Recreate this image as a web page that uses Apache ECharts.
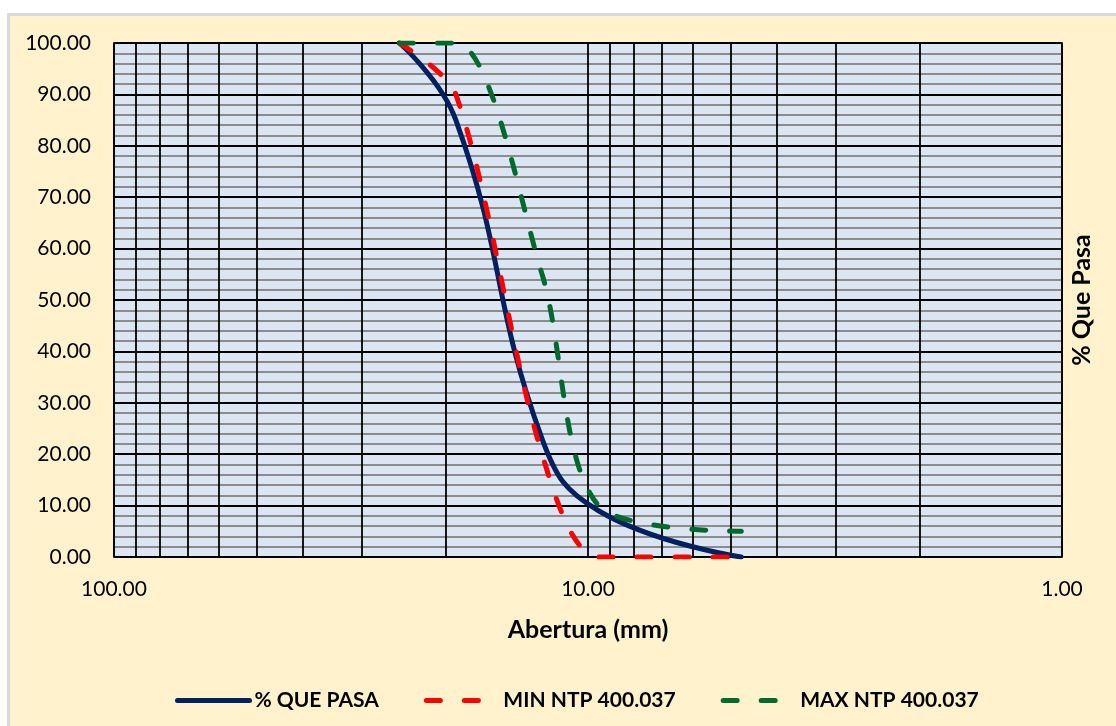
<!DOCTYPE html>
<html>
<head>
<meta charset="utf-8">
<script src="https://cdn.jsdelivr.net/npm/echarts@6/dist/echarts.min.js"></script>
<style>
  html, body { margin: 0; padding: 0; background: #fff; }
  #frame { position: absolute; left: 7px; top: 13px; right: 0; bottom: 0;
           background: #FFF2CC; border-left: 3px solid #d9d9d9; border-top: 3px solid #d9d9d9; }
  #chart { position: absolute; left: 0; top: 0; width: 1116px; height: 726px; }
</style>
</head>
<body>
<div id="frame"></div>
<div id="chart"></div>
<script>
// tamices (mm) y % que pasa
var aberturas = [25, 19, 12.5, 9.5, 4.75];
var quePasa = [100, 85, 23, 9, 0];
var minNtp = [100, 90, 20, 0, 0];
var maxNtp = [100, 100, 55, 10, 5];
// lineas verticales del papel logaritmico
var lineasLog = [90, 80, 70, 60, 50, 40, 30, 20, 9, 8, 7, 6, 5, 4, 3, 2];

function pares(vals) {
    return aberturas.map(function(a, i) { return [a, vals[i]]; });
}

var myChart = echarts.init(document.getElementById('chart'));
var font = 'Lato';

option = {
    backgroundColor: 'transparent',
    animation: false,
    grid: {
        left: 114, top: 43, right: 54, bottom: 169,
        show: true,
        backgroundColor: '#DCE6F2',
        borderColor: '#000',
        borderWidth: 1.5
    },
    legend: {
        top: 685,
        left: 170,
        itemWidth: 72,
        itemHeight: 14,
        itemGap: 45,
        itemStyle: { opacity: 0 },
        lineStyle: { width: 5 },
        textStyle: { fontFamily: font, fontWeight: 'bold', fontSize: 21, color: '#000' },
        data: ['% QUE PASA', 'MIN NTP 400.037', 'MAX NTP 400.037']
    },
    graphic: [{
        type: 'text',
        x: 1082, y: 300,
        rotation: Math.PI / 2,
        style: {
            text: '% Que Pasa',
            fontFamily: font, fontWeight: 'bold', fontSize: 25, fill: '#000',
            textAlign: 'center', textVerticalAlign: 'middle'
        }
    }],
    xAxis: {
        type: 'log',
        logBase: 10,
        min: 1,
        max: 100,
        inverse: true,
        name: 'Abertura (mm)',
        nameLocation: 'middle',
        nameGap: 60,
        nameTextStyle: { fontFamily: font, fontWeight: 'bold', fontSize: 25, color: '#000' },
        axisLine: { show: false },
        axisTick: { show: false },
        axisLabel: {
            fontFamily: font, fontSize: 21, color: '#000', margin: 22,
            formatter: function(v) { return Number(v).toFixed(2); }
        },
        splitLine: { show: true, lineStyle: { color: '#000', width: 1.8 } }
    },
    yAxis: {
        type: 'value',
        min: 0,
        max: 100,
        interval: 10,
        axisLine: { show: false },
        axisTick: { show: false },
        axisLabel: {
            fontFamily: font, fontSize: 21, color: '#000', margin: 23,
            formatter: function(v) { return v.toFixed(2); }
        },
        minorTick: { show: false, splitNumber: 5 },
        minorSplitLine: { show: true, lineStyle: { color: '#8c8c8c', width: 2 } },
        splitLine: { show: true, lineStyle: { color: '#000', width: 1.8 } }
    },
    series: [{
        name: '% QUE PASA',
        type: 'line',
        smooth: 0.45,
        symbol: 'none',
        data: pares(quePasa),
        lineStyle: { color: '#002060', width: 5, cap: 'round' },
        itemStyle: { color: '#002060' },
        markLine: {
            silent: true,
            symbol: 'none',
            label: { show: false },
            z: 1,
            lineStyle: { color: '#000', width: 1.8, type: 'solid' },
            data: lineasLog.map(function(v) { return { xAxis: v }; })
        },
        z: 3
    }, {
        name: 'MIN NTP 400.037',
        type: 'line',
        smooth: 0.3,
        symbol: 'none',
        data: pares(minNtp),
        lineStyle: { color: '#FF0000', width: 5, type: [14, 24], cap: 'round' },
        itemStyle: { color: '#FF0000' },
        z: 4
    }, {
        name: 'MAX NTP 400.037',
        type: 'line',
        smooth: 0.3,
        symbol: 'none',
        data: pares(maxNtp),
        lineStyle: { color: '#006A2E', width: 5, type: [14, 24], cap: 'round' },
        itemStyle: { color: '#006A2E' },
        z: 5
    }]
};

myChart.setOption(option);

window.onresize = function() {
    myChart.resize();
}
</script>
</body>
</html>
